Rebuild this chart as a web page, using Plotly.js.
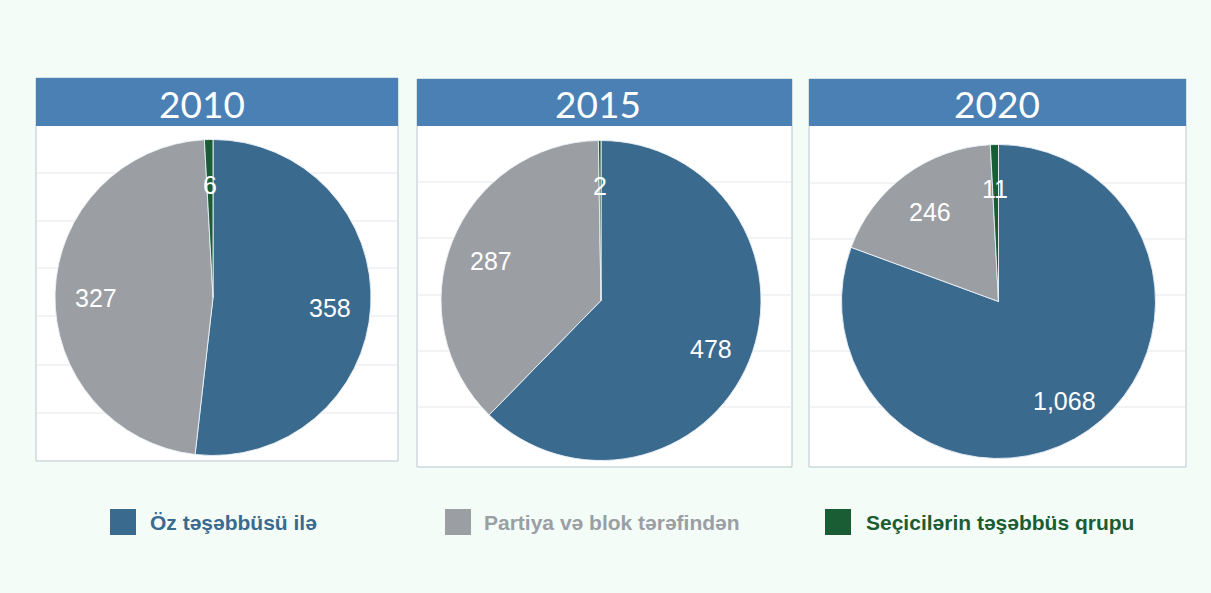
<!DOCTYPE html>
<html>
<head>
<meta charset="utf-8">
<script src="https://cdn.plot.ly/plotly-3.0.1.min.js"></script>
<style>
  html, body { margin: 0; padding: 0; background: #f4fcf8; }
  #chart { width: 1211px; height: 593px; }
</style>
</head>
<body>
<div id="chart"></div>
<script>
// ---- data ----
const years = ['2010', '2015', '2020'];
const categories = ['Öz təşəbbüsü ilə', 'Partiya və blok tərəfindən', 'Seçicilərin təşəbbüs qrupu'];
const values2010 = [358, 327, 6];
const values2015 = [478, 287, 2];
const values2020 = [1068, 246, 11];
const seriesValues = [values2010, values2015, values2020];
const sliceColors = ['#3b6a8f', '#9b9ea3', '#1a5c33'];

// ---- layout geometry (pixels) ----
const W = 1211, H = 593;
const panels = [
  { x0: 36, x1: 398, hy0: 78, hy1: 126, by1: 461, cx: 213, cy: 297.5, r: 158, tx: 202.5, grid: [173, 221, 268, 316, 365, 413] },
  { x0: 417, x1: 792, hy0: 79, hy1: 126, by1: 467, cx: 601, cy: 300.5, r: 160, tx: 598, grid: [182, 238, 295, 351, 407] },
  { x0: 809, x1: 1186, hy0: 79, hy1: 126, by1: 467, cx: 998.5, cy: 301.5, r: 157, tx: 997, grid: [183, 239, 295, 351, 407] }
];
const legendItems = [
  { sx: 110, tx: 148 },
  { sx: 445, tx: 482 },
  { sx: 825, tx: 864 }
];
const legendY0 = 509, legendSize = 26;

const px = x => x / W;
const py = y => 1 - y / H;

const traces = [];
const shapes = [];
const annotations = [];

panels.forEach((p, i) => {
  // white panel box
  shapes.push({ type: 'rect', xref: 'paper', yref: 'paper', layer: 'below',
    x0: px(p.x0), x1: px(p.x1), y0: py(p.by1), y1: py(p.hy0),
    fillcolor: '#ffffff', line: { color: '#b9c6cf', width: 1 } });
  // gridlines
  p.grid.forEach(g => {
    shapes.push({ type: 'line', xref: 'paper', yref: 'paper', layer: 'below',
      x0: px(p.x0 + 1), x1: px(p.x1 - 1), y0: py(g), y1: py(g),
      line: { color: '#e3e7ea', width: 1 } });
  });
  // header bar
  shapes.push({ type: 'rect', xref: 'paper', yref: 'paper', layer: 'below',
    x0: px(p.x0), x1: px(p.x1), y0: py(p.hy1), y1: py(p.hy0),
    fillcolor: '#4a80b3', line: { width: 0 } });
  annotations.push({ xref: 'paper', yref: 'paper', x: px(p.tx), y: py((p.hy0 + p.hy1) / 2 + 1),
    xanchor: 'center', yanchor: 'middle', showarrow: false, text: years[i],
    font: { family: 'Lato, "Open Sans", sans-serif', size: 37, color: '#ffffff' } });

  // pie
  const vals = seriesValues[i];
  traces.push({
    type: 'pie', values: vals, labels: categories, sort: false, direction: 'clockwise', rotation: 0,
    marker: { colors: sliceColors, line: { color: 'rgba(235,242,248,0.9)', width: 1 } },
    textinfo: 'none', hoverinfo: 'label+value', showlegend: false,
    domain: { x: [px(p.cx - p.r), px(p.cx + p.r)], y: [py(p.cy + p.r), py(p.cy - p.r)] }
  });

  // data labels placed from cumulative shares
  const total = vals.reduce((a, b) => a + b, 0);
  let cum = 0;
  vals.forEach((v, j) => {
    const mid = (cum + v / 2) / total * 2 * Math.PI;
    cum += v;
    const k = 0.74;
    const lx = p.cx + k * p.r * Math.sin(mid);
    const ly = p.cy - k * p.r * Math.cos(mid) + 4;
    annotations.push({ xref: 'paper', yref: 'paper', x: px(lx), y: py(ly),
      xanchor: 'center', yanchor: 'middle', showarrow: false,
      text: v.toLocaleString('en-US'),
      font: { family: '"Liberation Sans", Arial, sans-serif', size: 25, color: '#ffffff' } });
  });
});

// legend
legendItems.forEach((l, j) => {
  shapes.push({ type: 'rect', xref: 'paper', yref: 'paper',
    x0: px(l.sx), x1: px(l.sx + legendSize), y0: py(legendY0 + legendSize), y1: py(legendY0),
    fillcolor: sliceColors[j], line: { width: 0 } });
  annotations.push({ xref: 'paper', yref: 'paper', x: px(l.tx), y: py(legendY0 + legendSize / 2),
    xanchor: 'left', yanchor: 'middle', showarrow: false, text: '<b>' + categories[j] + '</b>',
    font: { family: '"Liberation Sans", Arial, sans-serif', size: 21, color: sliceColors[j] } });
});

const layout = {
  width: W, height: H, autosize: false,
  margin: { l: 0, r: 0, t: 0, b: 0, pad: 0 },
  paper_bgcolor: '#f4fcf8', plot_bgcolor: '#f4fcf8',
  showlegend: false,
  shapes: shapes, annotations: annotations
};

Plotly.newPlot('chart', traces, layout, { displayModeBar: false, staticPlot: true });
</script>
</body>
</html>
